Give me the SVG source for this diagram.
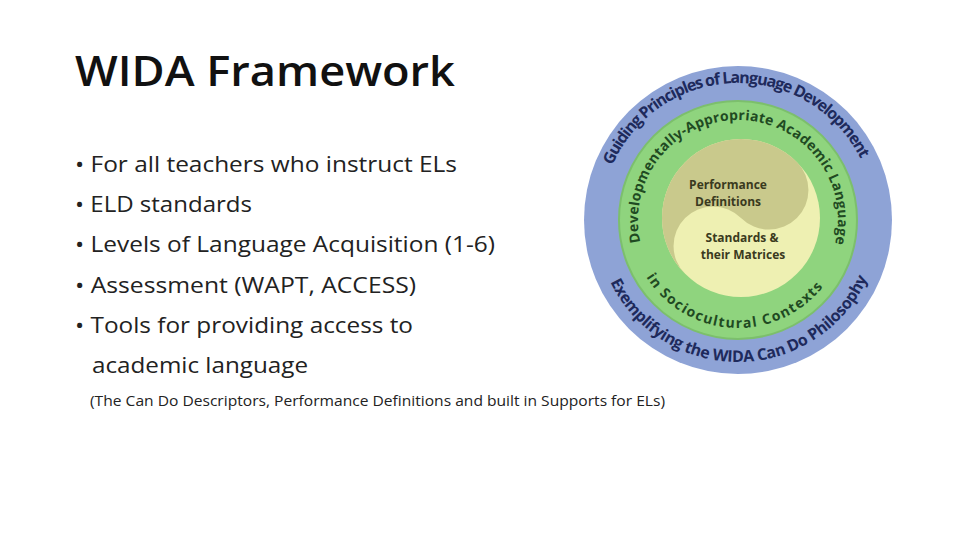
<svg xmlns="http://www.w3.org/2000/svg" width="960" height="540" viewBox="0 0 960 540">
<style>
.b{font-family:"Open Sans","Liberation Sans",Arial,sans-serif;font-size:22px;fill:#222}
.o{font-family:"Open Sans","Liberation Sans",sans-serif;font-weight:bold;font-size:16px;fill:#1e2a5c}
.g{font-family:"Open Sans","Liberation Sans",sans-serif;font-weight:bold;font-size:14px;fill:#1f4a22}
.y{font-family:"Open Sans","Liberation Sans",sans-serif;font-weight:bold;font-size:12px;fill:#3a3a20;text-anchor:middle}
</style>
<defs>
<path id="ot" d="M601,220 A137,137 0 0 1 875,220"/>
<path id="ob" d="M596,220 A142,142 0 0 0 880,220"/>
<path id="gt" d="M641.4,245.9 A100,100 0 1 1 834.6,245.9"/>
<path id="gb" d="M630,220 A108,108 0 0 0 846,220"/>
</defs>
<rect width="960" height="540" fill="#fff"/>
<g id="title"><text x="75" y="86" font-family="Open Sans,Liberation Sans,sans-serif" font-weight="600" font-size="42" fill="#111" textLength="380" lengthAdjust="spacingAndGlyphs">WIDA Framework</text></g>
<g id="bullets" class="b">
<text x="75" y="172" textLength="382" lengthAdjust="spacingAndGlyphs">• For all teachers who instruct ELs</text>
<text x="75" y="212" textLength="177" lengthAdjust="spacingAndGlyphs">• ELD standards</text>
<text x="75" y="252" textLength="420" lengthAdjust="spacingAndGlyphs">• Levels of Language Acquisition (1-6)</text>
<text x="75" y="293" textLength="341" lengthAdjust="spacingAndGlyphs">• Assessment (WAPT, ACCESS)</text>
<text x="75" y="333" textLength="338" lengthAdjust="spacingAndGlyphs">• Tools for providing access to</text>
<text x="92" y="373" textLength="216" lengthAdjust="spacingAndGlyphs">academic language</text>
<text x="90" y="406" font-size="14" textLength="575" lengthAdjust="spacingAndGlyphs">(The Can Do Descriptors, Performance Definitions and built in Supports for ELs)</text>
</g>
<g id="wheel">
<circle cx="738" cy="220" r="154" fill="#8ea3d6"/>
<circle cx="738" cy="220" r="119" fill="#8fd47e" stroke="#7cbf6c" stroke-width="2"/>
<circle cx="741" cy="218" r="79" fill="#eef0b2"/>
<path d="M796.9,162.1 A79,79 0 0 0 685.1,273.9 A39.5,39.5 0 0 1 741,218 A39.5,39.5 0 0 0 796.9,162.1 Z" fill="#c9c98c"/>
<text class="o"><textPath href="#ot" startOffset="56" textLength="311" lengthAdjust="spacing">Guiding Principles of Language Development</textPath></text>
<text class="o"><textPath href="#ob" startOffset="64" textLength="322" lengthAdjust="spacing">Exemplifying the WIDA Can Do Philosophy</textPath></text>
<text class="g"><textPath href="#gt" startOffset="4" textLength="360" lengthAdjust="spacing">Developmentally-Appropriate Academic Language</textPath></text>
<text class="g"><textPath href="#gb" startOffset="60" textLength="207" lengthAdjust="spacing">in Sociocultural Contexts</textPath></text>
<text class="y" x="728" y="189">Performance</text>
<text class="y" x="728" y="206">Definitions</text>
<text class="y" x="742" y="242">Standards &amp;</text>
<text class="y" x="743" y="259">their Matrices</text>
</g>
</svg>
